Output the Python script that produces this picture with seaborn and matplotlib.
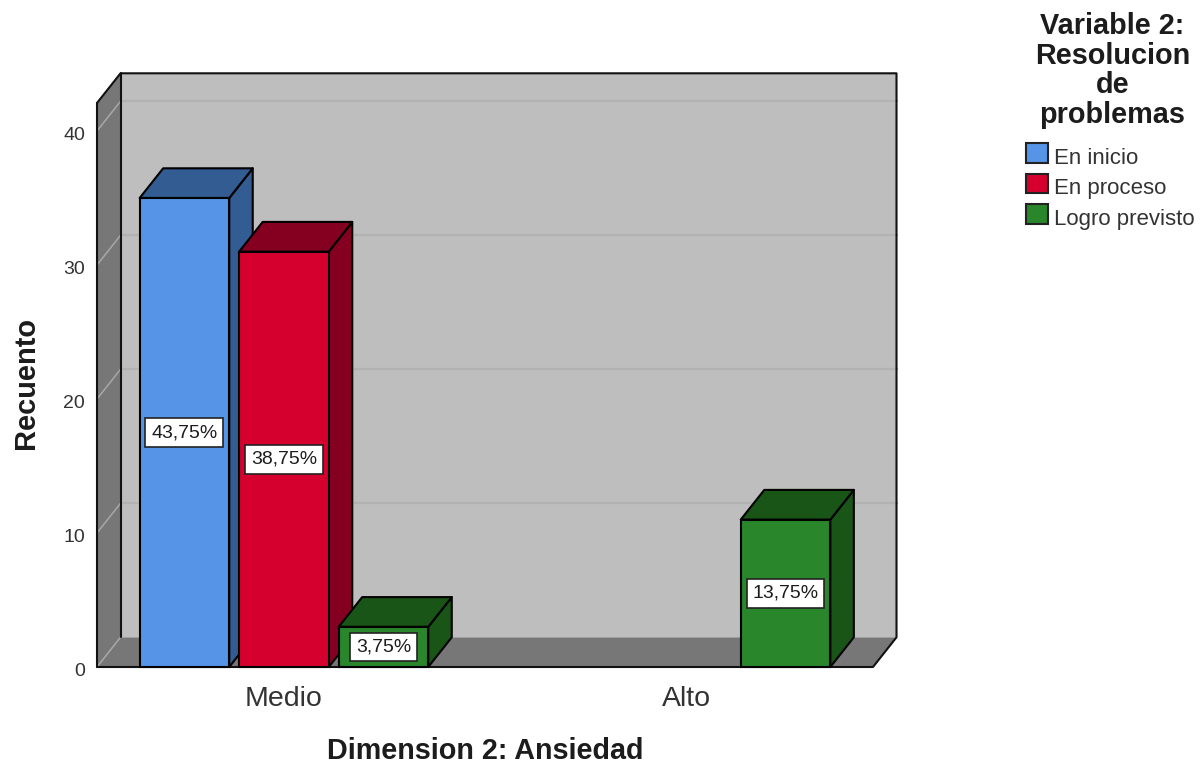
import matplotlib
matplotlib.use("Agg")
import matplotlib.pyplot as plt
import pandas as pd
import seaborn as sns
from matplotlib.patches import Polygon, Patch
from matplotlib.transforms import ScaledTranslation

categories = ["Medio", "Medio", "Medio", "Alto"]
groups = ["En inicio", "En proceso", "Logro previsto", "Logro previsto"]
counts = [35, 31, 3, 11]
pct_labels = ["43,75%", "38,75%", "3,75%", "13,75%"]
category_order = ["Medio", "Alto"]
group_order = ["En inicio", "En proceso", "Logro previsto"]
front_colors = ["#5594E6", "#D5002E", "#29862B"]
dark_colors = ["#335C92", "#850020", "#1A5518"]
y_ticks = [0, 10, 20, 30, 40]

sns.set_style("white")
plt.rcParams["font.family"] = ["Liberation Sans", "DejaVu Sans"]
TXT = "#1c1c1c"

df = pd.DataFrame({"cat": categories, "grp": groups, "n": counts, "pct": pct_labels})

fig = plt.figure(figsize=(12, 7.64), dpi=100, facecolor="white")
ax = fig.add_axes([97 / 1200, (764 - 667) / 764, 776 / 1200, 564 / 764])
sns.barplot(data=df, x="cat", y="n", hue="grp", order=category_order, hue_order=group_order,
            palette=front_colors, width=0.7425, gap=0.1, edgecolor="black", linewidth=1.5,
            saturation=1, legend=False, ax=ax)

X0, X1 = -0.465, 1.465
Y0, Y1 = 0, 42.09
DX, DY = 23.5 / 402, 29.7 / 13.4
ax.set_xlim(X0, X1)
ax.set_ylim(Y0, Y1)
ax.patch.set_visible(False)
for s in ax.spines.values():
    s.set_visible(False)


def poly(pts, fc, z, ec="none", lw=0):
    ax.add_patch(Polygon(pts, closed=True, facecolor=fc, edgecolor=ec, linewidth=lw,
                         zorder=z, clip_on=False, joinstyle="round"))


def seg(xs, ys, color, lw, z):
    ax.plot(xs, ys, color=color, lw=lw, zorder=z, clip_on=False, solid_capstyle="round")


# box: back wall, left wall, floor
poly([(X0 + DX, DY), (X1 + DX, DY), (X1 + DX, Y1 + DY), (X0 + DX, Y1 + DY)], "#BEBEBE", 0.1)
poly([(X0, 0), (X0 + DX, DY), (X0 + DX, Y1 + DY), (X0, Y1)], "#777777", 0.2)
poly([(X0, 0), (X1, 0), (X1 + DX, DY), (X0 + DX, DY)], "#777777", 0.2)
for t in y_ticks[1:]:
    seg([X0 + DX, X1 + DX], [t + DY, t + DY], "#B2B2B2", 1.6, 0.3)
for t in y_ticks:
    seg([X0, X0 + DX], [t, t + DY], "#A8A8A8", 1.1, 0.4)
seg([X0 + DX, X0 + DX], [DY, Y1 + DY], "#111111", 1.5, 0.5)
seg([X0, X0], [0, Y1], "#111111", 1.5, 0.5)
seg([X0, X0 + DX, X1 + DX, X1 + DX, X1, X0], [Y1, Y1 + DY, Y1 + DY, DY, 0, 0], "#111111", 1.5, 0.5)

# 3D faces and value labels for each bar, left to right
rows = []
for i, (grp, cont) in enumerate(zip(group_order, ax.containers)):
    sub = df[df["grp"] == grp]
    for bar, pct in zip(cont, sub["pct"]):
        if bar.get_height() > 0:
            rows.append((bar.get_x(), bar, i, pct))
rows.sort(key=lambda r: r[0])
for k, (_, bar, i, pct) in enumerate(rows):
    x, w, h = bar.get_x(), bar.get_width(), bar.get_height()
    z = 2 + k * 0.1
    poly([(x + w, 0), (x + w + DX, DY), (x + w + DX, h + DY), (x + w, h)], dark_colors[i], z, "black", 1.5)
    poly([(x, h), (x + w, h), (x + w + DX, h + DY), (x + DX, h + DY)], dark_colors[i], z, "black", 1.5)
    bar.set_zorder(z + 0.05)
    bar.set_clip_on(False)
    ax.text(x + w / 2, h / 2, pct, ha="center", va="center", fontsize=14, color=TXT, zorder=5,
            bbox=dict(boxstyle="square,pad=0.3", facecolor="white", edgecolor="#222222", linewidth=1.2))

ax.set_yticks(y_ticks)
ax.set_xlabel("")
ax.set_ylabel("")
ax.tick_params(axis="y", length=0, pad=8.5, labelsize=14, labelcolor="#333333")
ax.tick_params(axis="x", length=0, pad=13.5, labelsize=20.5, labelcolor="#333333")
shift = ScaledTranslation(0, -2.5 / 100, fig.dpi_scale_trans)
for lab in ax.get_yticklabels():
    lab.set_transform(lab.get_transform() + shift)
fig.text(26 / 1200, 1 - 383.5 / 764, "Recuento", rotation=90, ha="center", va="center",
         fontsize=20.9, fontweight="bold", color=TXT)
fig.text(485 / 1200, 1 - 751 / 764, "Dimension 2: Ansiedad", ha="center", va="center",
         fontsize=20.7, fontweight="bold", color=TXT)

# legend
handles = [Patch(facecolor=c, edgecolor="#222222", linewidth=1.5, label=g)
           for c, g in zip(front_colors, group_order)]
leg = fig.legend(handles=handles, loc="upper left", bbox_to_anchor=(1026 / 1200, 1 - 143 / 764),
                 bbox_transform=fig.transFigure, frameon=False, fontsize=16, borderpad=0, borderaxespad=0,
                 handlelength=1.0, handleheight=1.0, handletextpad=0.28, labelspacing=0.36,
                 labelcolor="#333333")
for t in leg.get_texts():
    t.set_y(-3)
fig.text(1112.5 / 1200, 1 - 70.5 / 764, "Variable 2:\nResolucion\nde\nproblemas", ha="center", va="center",
         fontsize=20.8, fontweight="bold", color=TXT, linespacing=1.09, multialignment="center")

fig.savefig("out.png", dpi=100, facecolor="white")
